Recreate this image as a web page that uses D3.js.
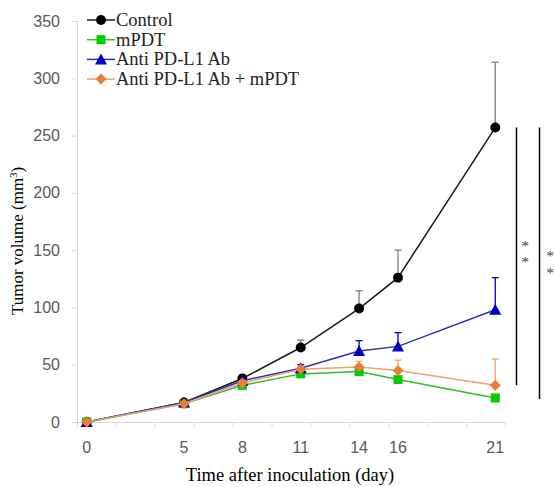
<!DOCTYPE html>
<html><head><meta charset="utf-8">
<script src="https://cdn.jsdelivr.net/npm/d3@7"></script>
<style>body{margin:0;background:#fff}svg{display:block}</style>
</head><body>
<script>
const days = [0, 5, 8, 11, 14, 16, 21];
const seriesNames = ["Control", "mPDT", "Anti PD-L1 Ab", "Anti PD-L1 Ab + mPDT"];
const controlMean = [0, 17, 38, 65, 99, 126, 257];
const controlErr  = [0, 2, 3, 6.5, 15.5, 24, 57];
const mpdtMean    = [0, 16, 32, 42, 44, 37, 21];
const mpdtErr     = [0, 1, 1, 1, 1, 1, 1];
const abMean      = [0, 17, 36, 47, 62, 66, 98];
const abErr       = [0, 2, 2, 3, 9, 12, 28];
const comboMean   = [0, 16, 34, 46, 48, 45, 32];
const comboErr    = [0, 1, 2, 2, 5, 9, 23];
const yTicks = [0, 50, 100, 150, 200, 250, 300, 350];
const xTickMarks = [-0.5, 1.5, 3.5, 5.5, 7.5, 9.5, 11.5, 13.5, 15.5, 17.5, 19.5, 21.5];
const sigLabels = ["*", "*"];

const W = 555, H = 487;
const svg = d3.select("body").append("svg").attr("width", W).attr("height", H);
const x = d3.scaleLinear().domain([-0.5, 21.5]).range([77, 505]);
const y = d3.scaleLinear().domain([0, 350]).range([422, 21]);

const series = [
  {name: seriesNames[0], mean: controlMean, err: controlErr, line: "#1a1a1a", fill: "#000000", errc: "#7f7f7f", shape: "circle"},
  {name: seriesNames[1], mean: mpdtMean, err: mpdtErr, line: "#2fbf2f", fill: "#00cc00", errc: "#2fbf2f", shape: "square"},
  {name: seriesNames[2], mean: abMean, err: abErr, line: "#3030b0", fill: "#0000c0", errc: "#0000c0", shape: "triangle"},
  {name: seriesNames[3], mean: comboMean, err: comboErr, line: "#f0a070", fill: "#ed7d31", errc: "#eea27a", shape: "diamond"}
];

const tickFont = "'Liberation Sans', Arial, sans-serif";
const serif = "'Liberation Serif', 'Times New Roman', serif";
const yAxis = d3.axisLeft(y).tickValues(yTicks).tickSize(5).tickPadding(12);
const gy = svg.append("g").attr("transform", `translate(${x(-0.5)},0)`).call(yAxis);
gy.select(".domain").attr("stroke", "#d9d9d9");
gy.selectAll(".tick line").attr("stroke", "#d9d9d9");
gy.selectAll(".tick text").attr("fill", "#595959").style("font-family", tickFont).style("font-size", "16px");

const xAxis = d3.axisBottom(x).tickValues(xTickMarks).tickSize(5).tickFormat("");
const gx = svg.append("g").attr("transform", `translate(0,${y(0)})`).call(xAxis);
gx.select(".domain").attr("stroke", "#d9d9d9");
gx.selectAll(".tick line").attr("stroke", "#d9d9d9");
svg.append("g").selectAll("text").data(days).join("text")
  .attr("x", d => x(d)).attr("y", y(0) + 31)
  .attr("text-anchor", "middle").attr("fill", "#595959")
  .style("font-family", tickFont).style("font-size", "16px").text(d => d);

svg.append("text").attr("x", 290).attr("y", 481).attr("text-anchor", "middle")
  .style("font-family", serif).style("font-size", "18.5px").text("Time after inoculation (day)");
const yt = svg.append("text").attr("transform", "translate(23,241) rotate(-90)").attr("text-anchor", "middle")
  .style("font-family", serif).style("font-size", "17px");
yt.append("tspan").text("Tumor volume (mm");
yt.append("tspan").attr("dy", -6).style("font-size", "10.5px").text("3");
yt.append("tspan").attr("dy", 6).text(")");

function marker(g, shape, cx, cy, fill) {
  if (shape === "circle") g.append("circle").attr("cx", cx).attr("cy", cy).attr("r", 5).attr("fill", fill);
  else if (shape === "square") g.append("rect").attr("x", cx - 4.5).attr("y", cy - 4.5).attr("width", 9).attr("height", 9).attr("fill", fill);
  else if (shape === "triangle") g.append("path").attr("d", `M${cx},${cy-6}L${cx+6},${cy+5}L${cx-6},${cy+5}Z`).attr("fill", fill);
  else g.append("path").attr("d", `M${cx},${cy-5.5}L${cx+5.5},${cy}L${cx},${cy+5.5}L${cx-5.5},${cy}Z`).attr("fill", fill);
}

const line = d3.line().x(d => x(d[0])).y(d => y(d[1]));
series.forEach(s => {
  const g = svg.append("g");
  const pts = days.map((d, i) => [d, s.mean[i], s.err[i]]);
  pts.forEach(p => {
    if (p[2] > 0) {
      g.append("line").attr("x1", x(p[0])).attr("x2", x(p[0])).attr("y1", y(p[1])).attr("y2", y(p[1] + p[2])).attr("stroke", s.errc).attr("stroke-width", 1.3);
      g.append("line").attr("x1", x(p[0]) - 3.5).attr("x2", x(p[0]) + 3.5).attr("y1", y(p[1] + p[2])).attr("y2", y(p[1] + p[2])).attr("stroke", s.errc).attr("stroke-width", 1.3);
    }
  });
  g.append("path").attr("d", line(pts)).attr("fill", "none").attr("stroke", s.line).attr("stroke-width", 1.5);
  pts.forEach(p => marker(g, s.shape, x(p[0]), y(p[1]), s.fill));
});

const leg = svg.append("g");
series.forEach((s, i) => {
  const ly = 20 + i * 19.7;
  leg.append("line").attr("x1", 87).attr("x2", 115).attr("y1", ly).attr("y2", ly).attr("stroke", s.line).attr("stroke-width", 1.5);
  marker(leg, s.shape, 101, ly, s.fill);
  leg.append("text").attr("x", 116).attr("y", ly + 6).style("font-family", serif).style("font-size", "18.5px").attr("fill", "#222").text(s.name);
});

const sig = [{x: 516.5, y1: 257, y2: 32, ax: 525, cy: 242}, {x: 539.5, y1: 257, y2: 20, ax: 550, cy: 252.5}];
sig.forEach(s => {
  svg.append("line").attr("x1", s.x).attr("x2", s.x).attr("y1", y(s.y1)).attr("y2", y(s.y2)).attr("stroke", "#000").attr("stroke-width", 1.5);
  sigLabels.forEach((t, j) => {
    svg.append("text").attr("x", s.ax).attr("y", s.cy + 8.5 + j * 16.5).attr("text-anchor", "middle")
      .attr("fill", "#404040").style("font-family", serif).style("font-size", "15.5px").text(t);
  });
});
</script>
</body></html>
